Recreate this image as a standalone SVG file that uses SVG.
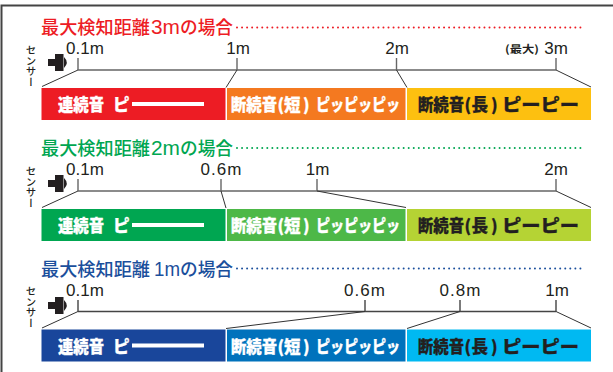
<svg xmlns="http://www.w3.org/2000/svg" width="613" height="372" viewBox="0 0 613 372">
<style>
.t{font-family:"Noto Sans CJK JP",sans-serif;font-size:18px;font-weight:500}
.l{font-family:"Liberation Sans",sans-serif;font-size:20px}
.d{fill:none;stroke-width:2;stroke-linecap:round;stroke-dasharray:0 5.05}
.n{font-family:"Liberation Sans",sans-serif;font-size:17px;fill:#231f20;text-anchor:middle}
.w6{letter-spacing:1px}
.ax{stroke:#666;stroke-width:1.4;fill:none}
.c{stroke:#333;stroke-width:1;fill:none}
.bt{font-family:"Noto Sans CJK JP",sans-serif;font-size:16.500px;font-weight:900;stroke-width:.3}
.w{fill:#fff;stroke:#fff}.k{fill:#231f20;stroke:#231f20}
.s{font-family:"Noto Sans CJK JP",sans-serif;font-size:10.500px;font-weight:500;fill:#231f20;writing-mode:vertical-rl}
</style>
<defs>
<g id="sensor"><rect x="0" y="5" width="7" height="7" fill="#231f20"/><rect x="7" y="0" width="8.500" height="17" fill="#231f20"/><path d="M16 3Q21.500 8.500 16 14Z" fill="#231f20"/></g>
<g id="bm1"><text class="bt w" x="58" y="23" textLength="46" lengthAdjust="spacingAndGlyphs">連続音</text><text class="bt w" x="113" y="23">ピ</text><rect x="132" y="14" width="72" height="4" fill="#fff"/></g>
<g id="bm2"><text class="bt w" x="231" y="23" textLength="46" lengthAdjust="spacingAndGlyphs">断続音</text><text class="bt w" x="277.500" y="23">(</text><text class="bt w" x="284" y="23">短</text><text class="bt w" x="303" y="23">)</text><text class="bt w" x="316" y="23" textLength="84" lengthAdjust="spacingAndGlyphs">ピッピッピッ</text></g>
<g id="bm3"><text class="bt k" x="418" y="23" textLength="46" lengthAdjust="spacingAndGlyphs">断続音</text><text class="bt k" x="464.500" y="23">(</text><text class="bt k" x="471.500" y="23">長</text><text class="bt k" x="491" y="23">)</text><text class="bt k" x="502" y="23" textLength="77" lengthAdjust="spacingAndGlyphs">ピーピー</text></g>
</defs>
<path d="M1.500 372V5.500H613" fill="none" stroke="#444" stroke-width="2"/>
<g id="connectors">
<path class="ax" d="M78 58V70M78 70H556M237 58V70M396.500 58V70M556 58V70"/>
<path class="c" d="M78 70L42 86.500M237 70L226 87.500M396.500 70L407 87.500M556 70L591 87"/>
<path class="ax" d="M78 179V191M78 191H556M221 179V191M317 179V191M556 179V191"/>
<path class="c" d="M78 191L42 207.500M221 191L226 208M317 191L406 207.500M556 191L591 207.500"/>
<path class="ax" style="stroke:#444" d="M78 300V311.500M78 311.500H556M365 300V311.500M460 300V311.500M556 300V311.500"/>
<path class="c" d="M78 311.500L42 328M365 311.500L226 328.500M460 311.500L407 328.500M556 311.500L591 328"/>
</g>
<g id="section-3m">
<text class="t" x="41" y="34" fill="#ed1c24" textLength="109" lengthAdjust="spacingAndGlyphs">最大検知距離</text><text class="l" x="151" y="34" fill="#ed1c24" textLength="29" lengthAdjust="spacingAndGlyphs">3m</text><text class="t" x="180" y="34" fill="#ed1c24" textLength="53" lengthAdjust="spacingAndGlyphs">の場合</text>
<path class="d" stroke="#ed1c24" d="M237 27.500H581"/>
<text class="s" x="31" y="45">センサー</text>
<use href="#sensor" x="48" y="54"/>
<text class="n" x="85" y="53.500">0.1m</text><text class="n" x="238" y="53.500">1m</text><text class="n" x="397" y="53.500">2m</text><text class="n" x="556" y="53.500">3m</text>
<text x="505" y="52.500" font-family="Noto Sans CJK JP,sans-serif" font-size="10.500" font-weight="700" fill="#231f20" textLength="34" lengthAdjust="spacingAndGlyphs">(最大)</text>
</g>
<g id="bar-3m-1"><rect x="41.500" y="88" width="184" height="32" fill="#ed1c24"/><use href="#bm1" y="88"/></g>
<g id="bar-3m-2"><rect x="227" y="88" width="178.500" height="32" fill="#f47920"/><use href="#bm2" y="88"/></g>
<g id="bar-3m-3"><rect x="407" y="88" width="184" height="32" fill="#fdc010"/><use href="#bm3" y="88"/></g>
<g id="section-2m">
<text class="t" x="41" y="155" fill="#00a651" textLength="109" lengthAdjust="spacingAndGlyphs">最大検知距離</text><text class="l" x="151" y="155" fill="#00a651" textLength="29" lengthAdjust="spacingAndGlyphs">2m</text><text class="t" x="180" y="155" fill="#00a651" textLength="53" lengthAdjust="spacingAndGlyphs">の場合</text>
<path class="d" stroke="#00a651" d="M237 148H581"/>
<text class="s" x="31" y="166">センサー</text>
<use href="#sensor" x="48" y="175"/>
<text class="n" x="85" y="174.500">0.1m</text><text class="n w6" x="221.500" y="174.500">0.6m</text><text class="n" x="317.500" y="174.500">1m</text><text class="n" x="556" y="174.500">2m</text>
</g>
<g id="bar-2m-1"><rect x="41.500" y="209" width="184" height="32" fill="#00a651"/><use href="#bm1" y="209"/></g>
<g id="bar-2m-2"><rect x="227" y="209" width="178.500" height="32" fill="#4db848"/><use href="#bm2" y="209"/></g>
<g id="bar-2m-3"><rect x="407" y="209" width="184" height="32" fill="#b5d334"/><use href="#bm3" y="209"/></g>
<g id="section-1m">
<text class="t" x="41" y="276" fill="#1b4f9c" textLength="109" lengthAdjust="spacingAndGlyphs">最大検知距離</text><text class="l" x="154" y="276" fill="#1b4f9c" textLength="26" lengthAdjust="spacingAndGlyphs">1m</text><text class="t" x="180" y="276" fill="#1b4f9c" textLength="53" lengthAdjust="spacingAndGlyphs">の場合</text>
<path class="d" stroke="#1b4f9c" d="M237 268.500H581"/>
<text class="s" x="31" y="286">センサー</text>
<use href="#sensor" x="48" y="297"/>
<text class="n" x="85" y="295.500">0.1m</text><text class="n w6" x="365" y="295.500">0.6m</text><text class="n w6" x="460.500" y="295.500">0.8m</text><text class="n" x="557" y="295.500">1m</text>
</g>
<g id="bar-1m-1"><rect x="41.500" y="329.500" width="184" height="32" fill="#19469b"/><use href="#bm1" y="329.500"/></g>
<g id="bar-1m-2"><rect x="227" y="329.500" width="178.500" height="32" fill="#0072bc"/><use href="#bm2" y="329.500"/></g>
<g id="bar-1m-3"><rect x="407" y="329.500" width="184" height="32" fill="#00b9f2"/><use href="#bm3" y="329.500"/></g>
</svg>
